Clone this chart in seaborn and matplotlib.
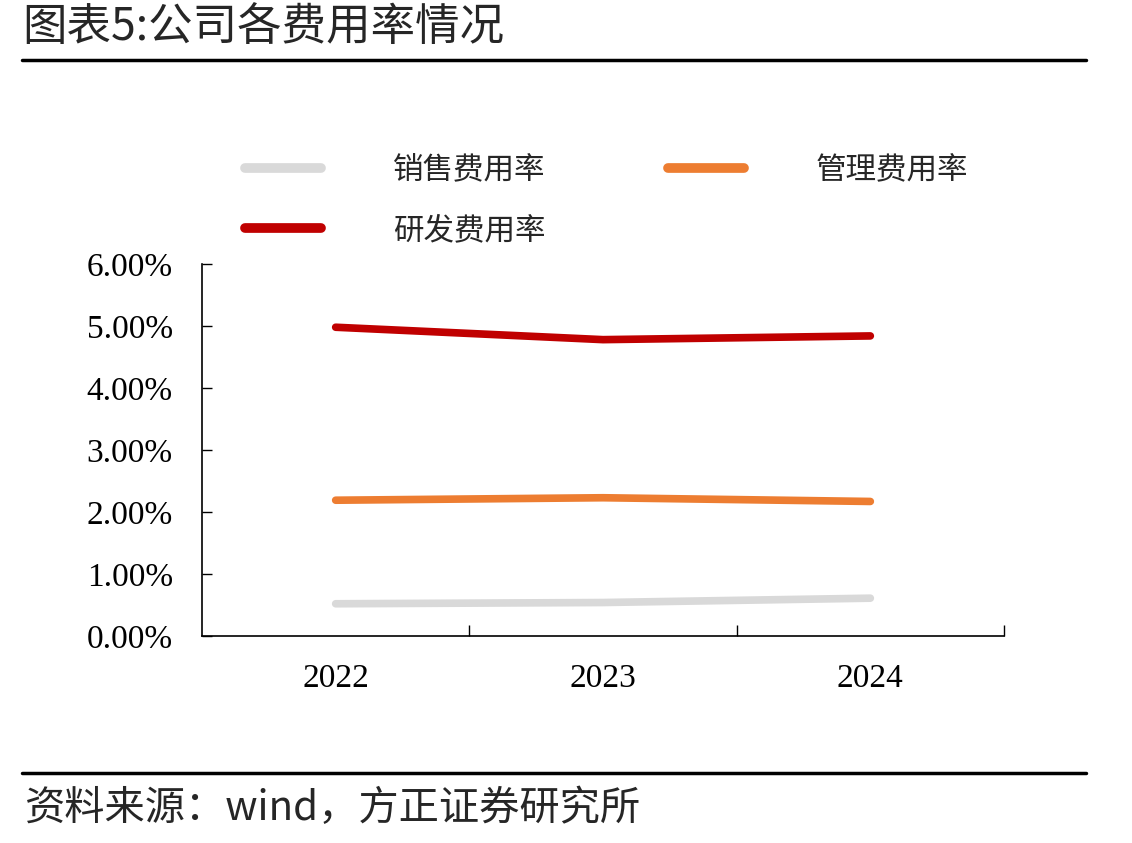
import pandas as pd
import matplotlib.pyplot as plt
import seaborn as sns
from matplotlib.ticker import PercentFormatter, FixedLocator
from matplotlib.lines import Line2D

# chart values (percent)
years = ['2022', '2023', '2024']
series_names = ['销售费用率', '管理费用率', '研发费用率']
sales_rate = [0.52, 0.54, 0.61]
admin_rate = [2.19, 2.23, 2.17]
rd_rate = [4.98, 4.78, 4.84]
colors = ['#D9D9D9', '#ED7D31', '#C00000']

df = pd.DataFrame({
    'year': years * 3,
    'series': [series_names[0]] * 3 + [series_names[1]] * 3 + [series_names[2]] * 3,
    'value': sales_rate + admin_rate + rd_rate,
})

sns.set_theme(style='white')
cjk = ['Noto Sans CJK SC', 'DejaVu Sans']
serif = ['Liberation Serif', 'DejaVu Serif']
plt.rcParams['font.family'] = cjk

fig = plt.figure(figsize=(11.32, 8.43), dpi=100)
ax = fig.add_axes([202 / 1132, 1 - 636 / 843, (1004 - 202) / 1132, (636 - 264) / 843])

sns.lineplot(data=df, x='year', y='value', hue='series', hue_order=series_names,
             palette=colors, linewidth=5.5, solid_capstyle='round', legend=False, ax=ax)

ax.set_xlim(-0.5, 2.5)
ax.set_ylim(0, 6)
ax.set_yticks([0, 1, 2, 3, 4, 5, 6])
ax.yaxis.set_major_formatter(PercentFormatter(xmax=100, decimals=2))
ax.set_xticks([0, 1, 2])
ax.set_xticklabels(years)
ax.xaxis.set_minor_locator(FixedLocator([0.5, 1.5, 2.5]))
ax.tick_params(axis='x', which='major', bottom=True, length=0, pad=20)
ax.tick_params(axis='x', which='minor', bottom=True, direction='in', length=8, width=1, color='black')
ax.tick_params(axis='y', direction='in', length=7, width=1, color='black', pad=21, left=True)
for lab in ax.get_xticklabels() + ax.get_yticklabels():
    lab.set_fontfamily(serif)
    lab.set_fontsize(24)
    lab.set_color('black')
ax.set_xlabel('')
ax.set_ylabel('')
for side in ['top', 'right']:
    ax.spines[side].set_visible(False)
for side in ['left', 'bottom']:
    ax.spines[side].set_color('black')
    ax.spines[side].set_linewidth(1.2)

# legend: first row sales/admin, second row r&d
handles = [Line2D([], [], color=c, linewidth=7, solid_capstyle='round') for c in colors]
order = [0, 2, 1]
fig.legend([handles[i] for i in order], [series_names[i] for i in order],
           ncol=2, loc='upper left', bbox_to_anchor=(245 / 1132, 1 - 155 / 843),
           frameon=False, fontsize=22, handlelength=2.5, handletextpad=2.35,
           columnspacing=4.0, labelspacing=0.95, borderpad=0, borderaxespad=0)

# header and footer
fig.text(22 / 1132, 1 - 27 / 843, '图表5:公司各费用率情况', fontsize=32, va='center', ha='left')
fig.add_artist(Line2D([22 / 1132, 1086 / 1132], [1 - 60 / 843, 1 - 60 / 843], color='black', linewidth=2.5))
fig.add_artist(Line2D([22 / 1132, 1086 / 1132], [1 - 773 / 843, 1 - 773 / 843], color='black', linewidth=2.5))
fig.text(25 / 1132, 1 - 808 / 843, '资料来源：wind，方正证券研究所', fontsize=29, va='center', ha='left')

fig.savefig('out.png', dpi=100, facecolor='white')
